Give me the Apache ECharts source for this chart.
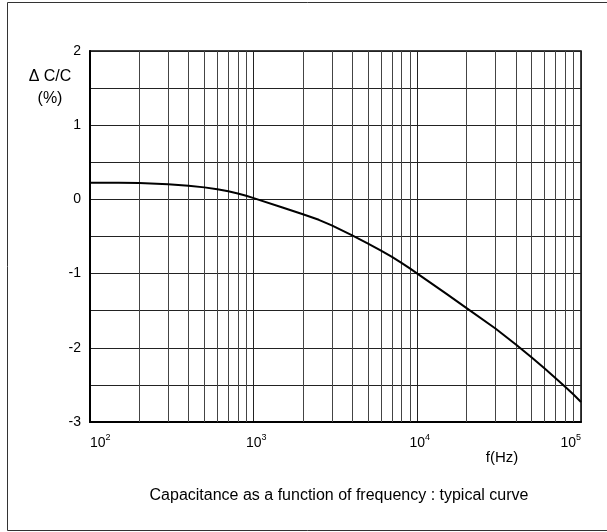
<!DOCTYPE html>
<html>
<head>
<meta charset="utf-8">
<script src="https://cdn.jsdelivr.net/npm/echarts@6/dist/echarts.min.js"></script>
<style>
html,body{margin:0;padding:0;background:#fff;}
#chart{width:607px;height:532px;}
</style>
</head>
<body>
<div id="chart"></div>
<script>
// ---- data ----
const frequency = [100, 150, 200, 300, 400, 500, 600, 700, 800, 900, 1000,
  1500, 2000, 2500, 3000, 4000, 5000, 6000, 7000, 8000, 9000, 10000,
  15000, 20000, 30000, 40000, 50000, 60000, 70000, 80000, 90000, 100000];
const deltaC = [0.225, 0.225, 0.22, 0.205, 0.185, 0.162, 0.137, 0.11, 0.08, 0.05, 0.017,
  -0.11, -0.2, -0.275, -0.35, -0.485, -0.595, -0.69, -0.775, -0.855, -0.93, -1.0,
  -1.27, -1.465, -1.74, -1.955, -2.13, -2.28, -2.41, -2.525, -2.63, -2.73];
const minorFreqs = [200, 300, 400, 500, 600, 700, 800, 900,
  2000, 3000, 4000, 5000, 6000, 7000, 8000, 9000,
  20000, 30000, 40000, 50000, 60000, 70000, 80000, 90000];
const yTickLabels = ['-3', '-2', '-1', '0', '1', '2'];
const yLabelLines = ['\u0394 C/C', '(%)'];
const xAxisTitle = 'f(Hz)';
const caption = 'Capacitance as a function of frequency : typical curve';

const FONT = '"Liberation Sans", Arial, Helvetica, sans-serif';
const chart = echarts.init(document.getElementById('chart'), null, {renderer: 'canvas'});

const curve = frequency.map((f, i) => [f, deltaC[i]]);

function expOf(v) { return Math.round(Math.log10(v)); }

chart.setOption({
  animation: false,
  backgroundColor: '#fff',
  textStyle: {fontFamily: FONT},
  grid: {left: 90, top: 51, right: 26, bottom: 110, show: true, borderColor: '#000', borderWidth: 1.5},
  xAxis: {
    type: 'log', logBase: 10, min: 100, max: 100000,
    axisLine: {show: true, onZero: false, lineStyle: {color: '#000', width: 2}},
    axisTick: {show: false},
    splitLine: {show: true, lineStyle: {color: '#222', width: 1}},
    axisLabel: {
      margin: 11,
      alignMinLabel: 'left',
      alignMaxLabel: 'right',
      formatter: function (v) {
        const e = expOf(v);
        if (e === 2 || e === 5) return '{b|10}{s|' + e + '}';
        return '{m|10}{s|' + e + '}';
      },
      rich: {
        b: {fontSize: 14, fontFamily: FONT, color: '#000', lineHeight: 20},
        m: {fontSize: 14, fontFamily: FONT, color: '#000', lineHeight: 20, padding: [0, 0, 0, 5]},
        s: {fontSize: 9, fontFamily: FONT, color: '#000', verticalAlign: 'top'}
      }
    }
  },
  yAxis: {
    type: 'value', min: -3, max: 2, interval: 0.5,
    axisLine: {show: true, onZero: false, lineStyle: {color: '#000', width: 2}},
    axisTick: {show: false},
    splitLine: {show: true, lineStyle: {color: '#222', width: 1}},
    axisLabel: {
      margin: 9, fontSize: 14, fontFamily: FONT, color: '#000',
      formatter: function (v) {
        if (Math.abs(v - Math.round(v)) > 1e-6) return '';
        const s = String(Math.round(v));
        return yTickLabels.indexOf(s) >= 0 ? s : '';
      }
    }
  },
  series: [{
    type: 'line',
    data: curve,
    showSymbol: false,
    symbol: 'none',
    smooth: false,
    lineStyle: {color: '#000', width: 2, join: 'round'},
    z: 5,
    markLine: {
      silent: true,
      symbol: ['none', 'none'],
      label: {show: false},
      lineStyle: {color: '#444', width: 1, type: 'solid'},
      emphasis: {disabled: true},
      animation: false,
      data: minorFreqs.map(f => ({xAxis: f}))
    }
  }],
  graphic: [
    {type: 'rect', shape: {x: 7.5, y: 2.5, width: 610, height: 528}, style: {fill: null, stroke: '#333', lineWidth: 1}, silent: true},
    {type: 'text', x: 50, y: 77, style: {text: yLabelLines[0], font: '16px ' + FONT, fill: '#000', align: 'center', verticalAlign: 'middle'}},
    {type: 'text', x: 50, y: 99, style: {text: yLabelLines[1], font: '16px ' + FONT, fill: '#000', align: 'center', verticalAlign: 'middle'}},
    {type: 'text', x: 502, y: 458, style: {text: xAxisTitle, font: '15px ' + FONT, fill: '#000', align: 'center', verticalAlign: 'middle'}},
    {type: 'text', x: 339, y: 496, style: {text: caption, font: '16px ' + FONT, fill: '#000', align: 'center', verticalAlign: 'middle'}}
  ]
});
</script>
</body>
</html>
